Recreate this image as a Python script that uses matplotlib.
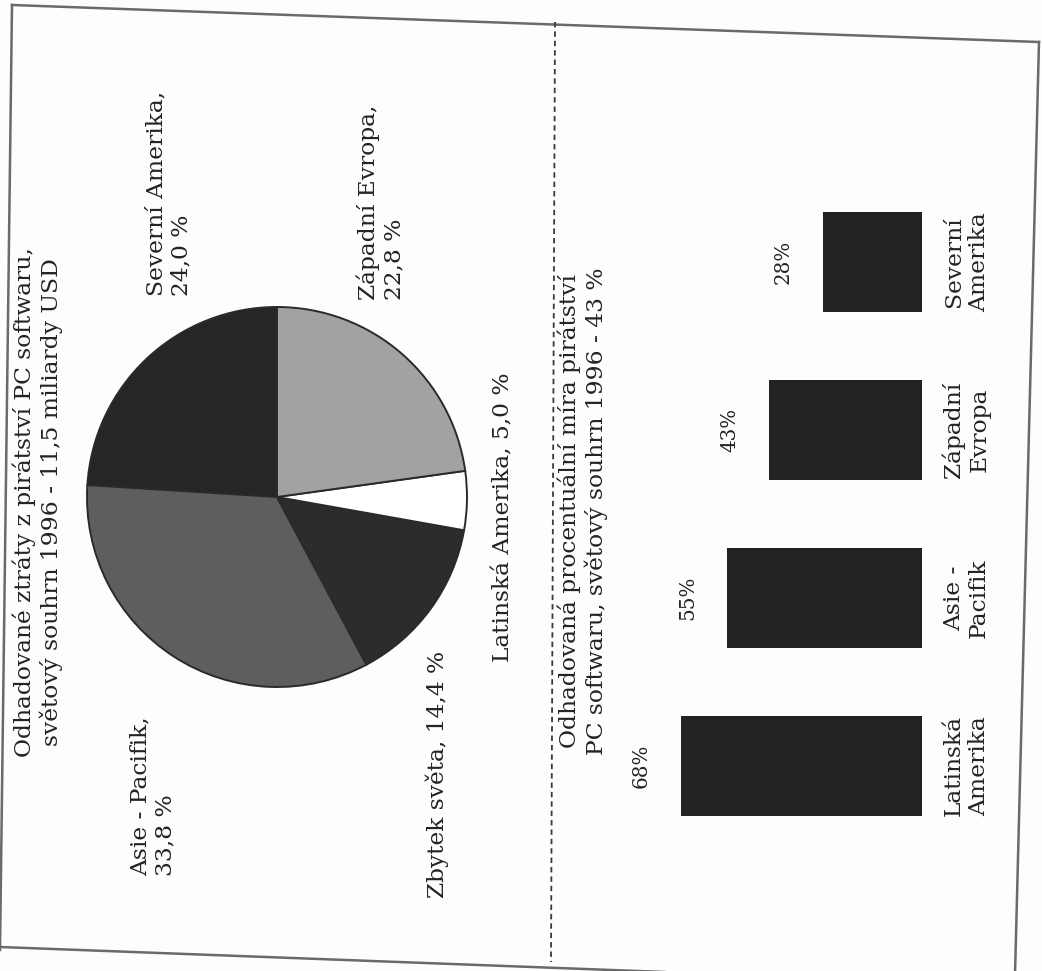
import matplotlib
matplotlib.use("Agg")
import matplotlib.pyplot as plt

W, H, DPI = 1042, 971, 100

# Estimated losses from PC software piracy by region, world total 1996 (share in %)
loss_regions = ["Severní Amerika", "Asie - Pacifik", "Zbytek světa",
                "Latinská Amerika", "Západní Evropa"]
loss_shares = [24.0, 33.8, 14.4, 5.0, 22.8]
loss_colors = ["#262626", "#5e5e5e", "#2c2c2c", "#ffffff", "#a2a2a2"]

# Estimated piracy rate by region (%)
rate_regions = ["Latinská\nAmerika", "Asie -\nPacifik", "Západní\nEvropa", "Severní\nAmerika"]
rate_values = [68, 55, 43, 28]

pie_title = "Odhadované ztráty z pirátství PC softwaru,\nsvětový souhrn 1996 - 11,5 miliardy USD"
bar_title = "Odhadovaná procentuální míra pirátství\nPC softwaru, světový souhrn 1996 - 43 %"

FONT = "DejaVu Serif"
FS = 16.8
INK = "#232323"

fig = plt.figure(figsize=(W / DPI, H / DPI), dpi=DPI)
fig.patch.set_facecolor("#fdfdfd")

# page layer in pixel units (y grows downward), the page is turned on its side
bg = fig.add_axes([0, 0, 1, 1])
bg.set_xlim(0, W)
bg.set_ylim(H, 0)
bg.axis("off")


def px_axes(x0, y0, x1, y1):
    return fig.add_axes([x0 / W, 1 - y1 / H, (x1 - x0) / W, (y1 - y0) / H])


def vtext(ax, x, y, s, ha="center", va="center", ma="center", size=FS, **kw):
    ax.text(x, y, s, rotation=90, ha=ha, va=va, multialignment=ma,
            fontsize=size, family=FONT, color=INK, linespacing=1.2,
            clip_on=False, **kw)


# page frame
frame = "#6a6a6a"
bg.plot([12, 1039], [5, 42], color=frame, lw=1.8)
bg.plot([12, 0], [5, 950], color=frame, lw=1.8)
bg.plot([0, 1010], [947, 985], color=frame, lw=1.8)
bg.plot([1039, 1015], [42, 975], color=frame, lw=1.8)
# dashed divider between the two charts
bg.plot([555, 551], [22, 962], color="#3a3a3a", lw=1.3, ls=(0, (3, 2.2)))

# ---- pie chart ----
vtext(bg, 38, 502, pie_title)

pie_ax = px_axes(77, 297, 477, 697)
pie_ax.pie(loss_shares, colors=loss_colors, startangle=90, counterclock=True,
           radius=0.95, wedgeprops=dict(edgecolor="#2a2a2a", linewidth=1.4))
pie_ax.set_xlim(-1, 1)
pie_ax.set_ylim(-1, 1)
pie_ax.axis("off")

# label anchors (bottom of the turned text block) and line break choice
pie_label_pos = {
    "Severní Amerika": (169, 296, "\n"),
    "Západní Evropa": (381, 300, "\n"),
    "Latinská Amerika": (503, 662, " "),
    "Zbytek světa": (437, 898, " "),
    "Asie - Pacifik": (153, 876, "\n"),
}
for name, share in zip(loss_regions, loss_shares):
    x, y, sep = pie_label_pos[name]
    txt = f"{name},{sep}{share:.1f} %".replace(".", ",")
    vtext(bg, x, y, txt, ha="center", va="bottom", ma="left")

# ---- bar chart ----
vtext(bg, 583, 511, bar_title)

bar_ax = px_axes(567, 178, 922, 850)
pos = list(range(len(rate_values)))
bar_ax.barh(pos, rate_values, height=0.6, color="#222222")
bar_ax.set_xlim(100, 0)
bar_ax.set_ylim(-0.5, 3.5)
bar_ax.axis("off")
for p, v, name in zip(pos, rate_values, rate_regions):
    vtext(bar_ax, v + 11, p, f"{v}%", size=FS - 2.5)
    vtext(bar_ax, -12.5, p, name)

fig.savefig("out.png", dpi=DPI, facecolor=fig.get_facecolor())
